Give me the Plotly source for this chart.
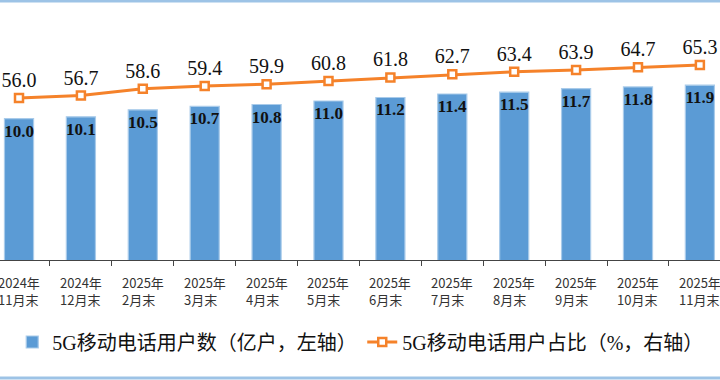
import plotly.graph_objects as go

categories = ["2024年<br>11月末", "2024年<br>12月末", "2025年<br>2月末", "2025年<br>3月末",
              "2025年<br>4月末", "2025年<br>5月末", "2025年<br>6月末", "2025年<br>7月末",
              "2025年<br>8月末", "2025年<br>9月末", "2025年<br>10月末", "2025年<br>11月末"]
users = [10.0, 10.1, 10.5, 10.7, 10.8, 11.0, 11.2, 11.4, 11.5, 11.7, 11.8, 11.9]
share = [56.0, 56.7, 58.6, 59.4, 59.9, 60.8, 61.8, 62.7, 63.4, 63.9, 64.7, 65.3]

bar_name = "5G移动电话用户数（亿户，左轴）"
line_name = "5G移动电话用户占比（%，右轴）"

fig = go.Figure()
fig.add_trace(go.Bar(
    x=categories, y=users, name=bar_name,
    marker=dict(color="#5B9BD5", line=dict(color="#A9CBEA", width=1.2)),
    width=0.47,
    text=[f"{v:.1f}" for v in users],
    textposition="inside", insidetextanchor="end", constraintext="none",
    textfont=dict(family="Liberation Serif", size=17, color="#111111", weight="bold"),
    textangle=0,
    yaxis="y",
))
fig.add_trace(go.Scatter(
    x=categories, y=share, name=line_name,
    mode="lines+markers+text",
    line=dict(color="#F5822A", width=3),
    marker=dict(symbol="square", size=8, color="white", line=dict(color="#F5822A", width=2.5)),
    text=[f"{v:.1f}" for v in share],
    textposition="top center",
    textfont=dict(family="Liberation Serif", size=20, color="#111111"),
    yaxis="y2",
    cliponaxis=False,
))

annotations = [
    dict(x=c, xref="x", y=-0.043, yref="paper", text=c, showarrow=False,
         xanchor="center", yanchor="top", align="left",
         font=dict(family="Noto Sans CJK SC", size=13, color="#333333"))
    for c in categories
]

fig.update_layout(
    width=720, height=380,
    margin=dict(l=0, r=0, t=10, b=120, autoexpand=False),
    paper_bgcolor="white", plot_bgcolor="white",
    xaxis=dict(
        type="category", range=[-0.307, 11.325], automargin=False,
        showline=True, linecolor="#444444", linewidth=1,
        ticks="outside", ticklen=5, tickcolor="#444444", tickson="boundaries",
        showticklabels=False,
        showgrid=False, zeroline=False,
    ),
    yaxis=dict(range=[1.95, 16.18], visible=False, showgrid=False, automargin=False),
    yaxis2=dict(range=[10.4, 80.8], overlaying="y", side="right", visible=False,
                showgrid=False, automargin=False),
    showlegend=True,
    legend=dict(
        orientation="h", x=0.017, xanchor="left", y=-0.328, yanchor="middle",
        font=dict(family="Liberation Serif, Noto Sans CJK SC", size=20, color="#111111"),
        itemwidth=30, tracegroupgap=0, entrywidth=305,
    ),
    annotations=annotations,
    shapes=[
        dict(type="line", xref="paper", yref="paper", x0=0, x1=1, y0=1.036, y1=1.036,
             line=dict(color="#9DC3E6", width=3)),
        dict(type="line", xref="paper", yref="paper", x0=0, x1=1, y0=-0.472, y1=-0.472,
             line=dict(color="#9DC3E6", width=3)),
    ],
)

fig.write_html("out.html", config={"displayModeBar": False},
               post_script="document.body.style.margin='0px';document.body.style.overflow='hidden';")
